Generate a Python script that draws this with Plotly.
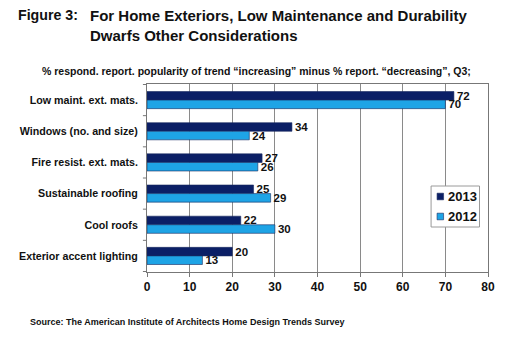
import plotly.graph_objects as go

categories = [
    "Low maint. ext. mats.",
    "Windows (no. and size)",
    "Fire resist. ext. mats.",
    "Sustainable roofing",
    "Cool roofs",
    "Exterior accent lighting",
]
values_2013 = [72, 34, 27, 25, 22, 20]
values_2012 = [70, 24, 26, 29, 30, 13]
x_ticks = [0, 10, 20, 30, 40, 50, 60, 70, 80]
series_names = ["2013", "2012"]

NAVY = "#0b1f66"
SKY = "#1ea4e6"
INK = "#111111"
FONT = "Liberation Sans, Arial, sans-serif"

# plot area in pixels
W, H = 530, 343
L, R, T, B = 146.5, 42, 84, 71
PW, PH = W - L - R, H - T - B


def px(xp):
    return (xp - L) / PW


def py(yp):
    return (H - B - yp) / PH


fig = go.Figure()
for name, vals, col in zip(series_names, [values_2013, values_2012], [NAVY, SKY]):
    fig.add_trace(go.Bar(
        y=categories, x=vals, name=name, orientation="h",
        marker=dict(color=col, line=dict(color="#1a2a60", width=0.6)),
        text=[f"<b>{v}</b>" for v in vals], textposition="outside",
        constraintext="none",
        textfont=dict(family=FONT, size=11.5, color=INK),
        cliponaxis=False, showlegend=False,
    ))

fig.update_layout(
    width=W, height=H,
    margin=dict(l=L, r=R, t=T, b=B),
    paper_bgcolor="white", plot_bgcolor="white",
    barmode="group", bargap=0.45, bargroupgap=0.0,
    font=dict(family=FONT, color=INK),
    showlegend=False,
    xaxis=dict(
        range=[0, 80], tickvals=x_ticks, ticktext=[f"<b>{t}</b>" for t in x_ticks],
        showgrid=True, gridcolor="#8a8a8a", gridwidth=1,
        showline=True, linecolor="#777777", mirror=True,
        ticks="outside", ticklen=4, tickcolor="#777777",
        tickfont=dict(family=FONT, size=12, color=INK),
        zeroline=False,
    ),
    yaxis=dict(
        autorange="reversed",
        tickvals=categories, ticktext=[f"<b>{c}</b>" for c in categories],
        showline=True, linecolor="#777777", mirror=True,
        ticks="", showgrid=False,
        tickfont=dict(family=FONT, size=10.7, color=INK),
        ticklabelstandoff=6,
    ),
)

# tick marks between category groups on the left axis
for i in range(len(categories) + 1):
    fig.add_shape(type="line", xref="paper", yref="y",
                  x0=-0.012, x1=0, y0=i - 0.5, y1=i - 0.5,
                  line=dict(color="#777777", width=1))

# legend box
fig.add_shape(type="rect", xref="paper", yref="paper",
              x0=px(431), x1=px(479.5), y0=py(186), y1=py(227),
              line=dict(color="#9a9a9a", width=1), fillcolor="white")
for name, col, yc in zip(series_names, [NAVY, SKY], [196.5, 216.5]):
    fig.add_shape(type="rect", xref="paper", yref="paper",
                  x0=px(437), x1=px(443.5), y0=py(yc - 3.3), y1=py(yc + 3.3),
                  line=dict(color="#1a2a60", width=0.6), fillcolor=col)
    fig.add_annotation(text=f"<b>{name}</b>", xref="paper", yref="paper",
                       x=px(446), y=py(yc), xanchor="left", yanchor="middle",
                       showarrow=False, font=dict(family=FONT, size=13, color=INK))

fig.add_annotation(text="<b>Figure 3:</b>", xref="paper", yref="paper",
                   x=px(15), y=py(5.5), xanchor="left", yanchor="top",
                   showarrow=False, font=dict(family=FONT, size=14.2, color=INK))
fig.add_annotation(
    text="<b>For Home Exteriors, Low Maintenance and Durability</b><br>"
         "<b>Dwarfs Other Considerations</b>",
    xref="paper", yref="paper", x=px(87.5), y=py(5),
    xanchor="left", yanchor="top", align="left", showarrow=False,
    font=dict(family=FONT, size=15, color=INK))
fig.add_annotation(
    text="<b>% respond. report. popularity of trend \u201cincreasing\u201d minus % report. \u201cdecreasing\u201d, Q3;</b>",
    xref="paper", yref="paper", x=px(256.5), y=py(71),
    xanchor="center", yanchor="middle", showarrow=False,
    font=dict(family=FONT, size=10.5, color=INK))
fig.add_annotation(
    text="<b>Source: The American Institute of Architects Home Design Trends Survey</b>",
    xref="paper", yref="paper", x=px(27), y=py(322),
    xanchor="left", yanchor="middle", showarrow=False,
    font=dict(family=FONT, size=9, color=INK))

fig.write_html("out.html")
